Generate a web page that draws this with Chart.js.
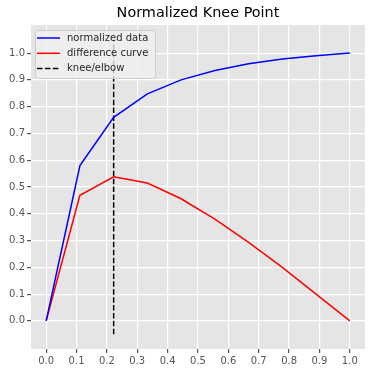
<!DOCTYPE html>
<html>
<head>
<meta charset="utf-8">
<script src="https://cdn.jsdelivr.net/npm/chart.js@4/dist/chart.umd.min.js"></script>
<style>
  html, body { margin: 0; padding: 0; background: #fff; }
  #wrap { width: 375px; height: 374px; position: relative; }
</style>
</head>
<body>
<div id="wrap"><canvas id="knee"></canvas></div>
<script>
// data
const xValues = [0, 0.1111, 0.2222, 0.3333, 0.4444, 0.5556, 0.6667, 0.7778, 0.8889, 1.0];
const normalizedY = [0, 0.58, 0.76, 0.848, 0.9, 0.935, 0.96, 0.978, 0.99, 1.0];
const differenceY = [0, 0.469, 0.538, 0.515, 0.456, 0.38, 0.293, 0.2, 0.1, 0];
const kneeX = 0.2222;
const kneeYRange = [-0.05, 1.05];
const xTicks = [0, 0.1, 0.2, 0.3, 0.4, 0.5, 0.6, 0.7, 0.8, 0.9, 1.0];
const yTicks = [0, 0.1, 0.2, 0.3, 0.4, 0.5, 0.6, 0.7, 0.8, 0.9, 1.0];
const seriesLabels = ['normalized data', 'difference curve', 'knee/elbow'];
const chartTitle = 'Normalized Knee Point';

const FONT = '"DejaVu Sans", sans-serif';
const BG = '#E5E5E5';

const toPoints = (xs, ys) => xs.map((x, i) => ({ x: x, y: ys[i] }));

const plotBackground = {
  id: 'plotBackground',
  beforeDraw(chart) {
    const { ctx, chartArea: a } = chart;
    ctx.save();
    ctx.fillStyle = BG;
    ctx.fillRect(a.left, a.top, a.right - a.left, a.bottom - a.top);
    ctx.restore();
  }
};

const titleAndLegend = {
  id: 'titleAndLegend',
  afterDraw(chart) {
    const { ctx, chartArea: a } = chart;
    ctx.save();
    // title
    ctx.fillStyle = '#000';
    ctx.font = '14.4px ' + FONT;
    ctx.textAlign = 'center';
    ctx.textBaseline = 'middle';
    ctx.fillText(chartTitle, (a.left + a.right) / 2, 13);

    // legend box
    const bx = a.left + 4, by = a.top + 5, bw = 120, bh = 48;
    ctx.fillStyle = 'rgba(240,240,240,0.8)';
    ctx.strokeStyle = '#CCCCCC';
    ctx.lineWidth = 1;
    ctx.beginPath();
    ctx.roundRect(bx + 0.5, by + 0.5, bw, bh, 3);
    ctx.fill();
    ctx.stroke();

    const colors = ['#0000FF', '#FF0000', '#000000'];
    const dashes = [[], [], [5.5, 2.4]];
    ctx.font = '10px ' + FONT;
    ctx.textAlign = 'left';
    seriesLabels.forEach((lab, i) => {
      const y = by + 8 + i * 15.3;
      ctx.strokeStyle = colors[i];
      ctx.lineWidth = 1.5;
      ctx.setLineDash(dashes[i]);
      ctx.beginPath();
      ctx.moveTo(bx + 2, y);
      ctx.lineTo(bx + 25, y);
      ctx.stroke();
      ctx.setLineDash([]);
      ctx.fillStyle = '#262626';
      ctx.fillText(lab, bx + 32, y);
    });
    ctx.restore();
  }
};

new Chart(document.getElementById('knee'), {
  type: 'scatter',
  data: {
    datasets: [
      {
        label: seriesLabels[0],
        data: toPoints(xValues, normalizedY),
        showLine: true,
        borderColor: '#0000FF',
        borderWidth: 1.5,
        pointRadius: 0,
        tension: 0
      },
      {
        label: seriesLabels[1],
        data: toPoints(xValues, differenceY),
        showLine: true,
        borderColor: '#FF0000',
        borderWidth: 1.5,
        pointRadius: 0,
        tension: 0
      },
      {
        label: seriesLabels[2],
        data: [{ x: kneeX, y: kneeYRange[0] }, { x: kneeX, y: kneeYRange[1] }],
        showLine: true,
        borderColor: '#000000',
        borderWidth: 1.5,
        borderDash: [5.5, 2.4],
        pointRadius: 0
      }
    ]
  },
  options: {
    responsive: true,
    maintainAspectRatio: false,
    animation: false,
    layout: {
      padding: { top: 25, right: 10, left: 0, bottom: 0 }
    },
    plugins: {
      legend: { display: false },
      title: { display: false },
      tooltip: { enabled: false }
    },
    scales: {
      x: {
        type: 'linear',
        min: -0.05,
        max: 1.05,
        afterBuildTicks: (scale) => { scale.ticks = xTicks.map(v => ({ value: v })); },
        afterFit: (scale) => { scale.height = 25; },
        grid: {
          color: '#FFFFFF',
          lineWidth: 1.2,
          drawTicks: true,
          tickLength: 4,
          tickColor: '#555555'
        },
        border: { display: false },
        ticks: {
          color: '#555555',
          font: { family: FONT, size: 10 },
          padding: 2,
          maxRotation: 0,
          callback: (v) => v.toFixed(1)
        }
      },
      y: {
        type: 'linear',
        min: -0.105,
        max: 1.105,
        afterBuildTicks: (scale) => { scale.ticks = yTicks.map(v => ({ value: v })); },
        afterFit: (scale) => { scale.width = 31; },
        grid: {
          color: '#FFFFFF',
          lineWidth: 1.2,
          drawTicks: true,
          tickLength: 4,
          tickColor: '#555555'
        },
        border: { display: false },
        ticks: {
          color: '#555555',
          font: { family: FONT, size: 10 },
          padding: 2,
          callback: (v) => v.toFixed(1)
        }
      }
    }
  },
  plugins: [plotBackground, titleAndLegend]
});
</script>
</body>
</html>
